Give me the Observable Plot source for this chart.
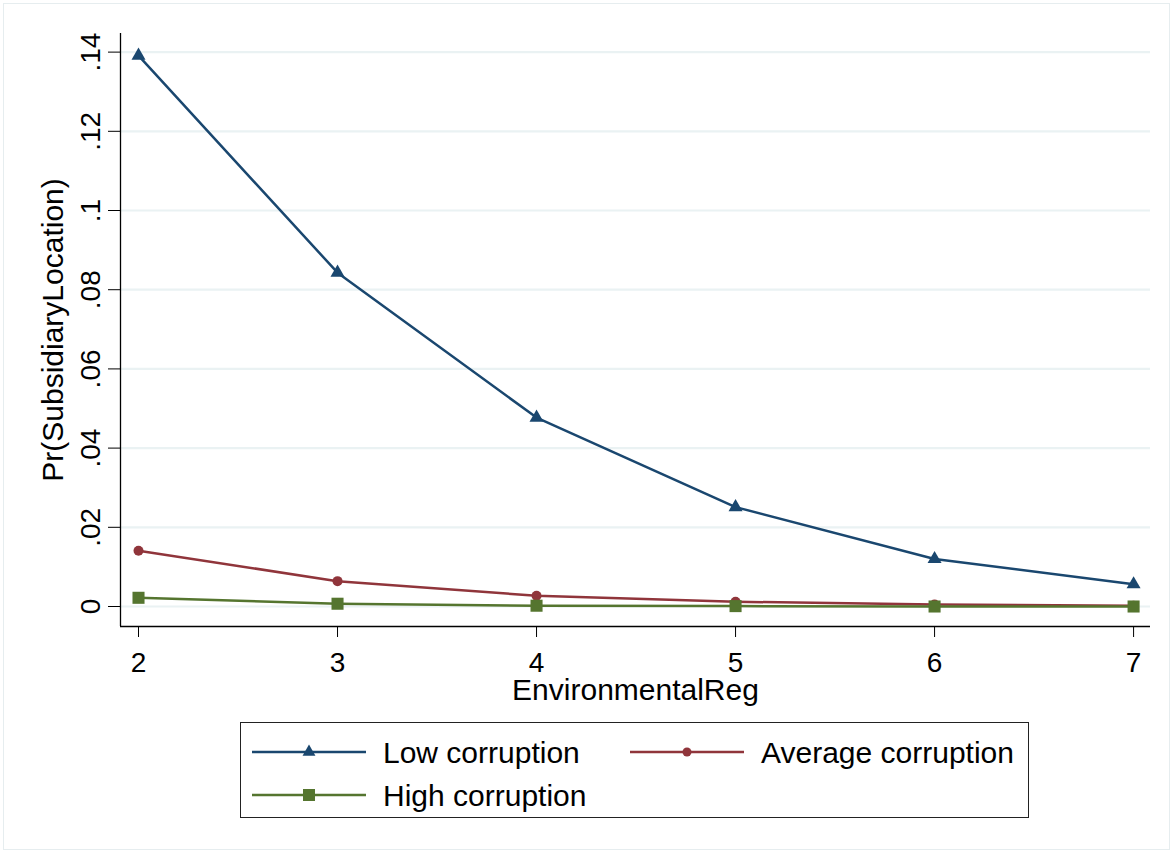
<!DOCTYPE html>
<html>
<head>
<meta charset="utf-8">
<script src="https://cdn.jsdelivr.net/npm/d3@7"></script>
<script src="https://cdn.jsdelivr.net/npm/@observablehq/plot@0.6"></script>
<style>
  html, body { margin: 0; padding: 0; background: #fff; }
  body { width: 1175px; height: 855px; position: relative; overflow: hidden;
         font-family: "Liberation Sans", Arial, sans-serif; }
  #frame { position: absolute; left: 3px; top: 3px; width: 1167px; height: 847px;
           border: 1px solid #e6edef; box-sizing: border-box; }
  #chart { position: absolute; left: 0; top: 0; }
  #legend { position: absolute; left: 240px; top: 722px; width: 789px; height: 96px;
            border: 1px solid #222; box-sizing: border-box; background: #fff; }
  .item { position: absolute; display: flex; align-items: center; font-size: 30px; color: #000; }
  .item svg { margin-right: 17px; flex: none; }
  .item span { position: relative; top: 1px; white-space: nowrap; }
</style>
</head>
<body>
<div id="frame"></div>
<div id="chart"></div>
<div id="legend"></div>
<script>
// ---- data ----
const xValues = [2, 3, 4, 5, 6, 7];
const lowCorruption = [0.1391, 0.0843, 0.0477, 0.0251, 0.0120, 0.0056];
const averageCorruption = [0.0141, 0.0064, 0.0027, 0.0012, 0.0005, 0.0002];
const highCorruption = [0.0022, 0.0007, 0.0002, 0.0001, 0.0000, 0.0000];
const seriesNames = ["Low corruption", "Average corruption", "High corruption"];
const seriesColors = ["#1a476f", "#90353b", "#55752f"];
const seriesSymbols = ["triangle", "circle", "square"];
const seriesRadii = [5.2, 5, 6.8];
const legendRadii = [4.8, 4.5, 6.8];
const yTicks = [0, 0.02, 0.04, 0.06, 0.08, 0.1, 0.12, 0.14];
const xTicks = [2, 3, 4, 5, 6, 7];
const xLabel = "EnvironmentalReg";
const yLabel = "Pr(SubsidiaryLocation)";

const seriesValues = [lowCorruption, averageCorruption, highCorruption];
const rows = [];
seriesNames.forEach((name, i) => {
  xValues.forEach((x, j) => rows.push({series: name, x, y: seriesValues[i][j]}));
});

const fmtY = d => d === 0 ? "0" : String(+d.toFixed(2)).replace(/^0\./, ".");
const font = '"Liberation Sans", Arial, sans-serif';
const xDomain = [1.9095, 7.085];
const yDomain = [-0.00505, 0.1447];

const marks = [
  Plot.gridY(yTicks, {stroke: "#eaf2f3", strokeOpacity: 1, strokeWidth: 2.2}),
  Plot.ruleX([xDomain[0]], {stroke: "#000", strokeWidth: 1.3}),
  Plot.ruleY([yDomain[0]], {stroke: "#000", strokeWidth: 1.3}),
  Plot.axisY(yTicks, {tickSize: 12, tickFormat: () => "", label: null, stroke: "#000"}),
  Plot.text(yTicks, {y: d => d, text: fmtY, frameAnchor: "left", dx: -29, rotate: -90,
                     fontSize: 28, fill: "#000", textAnchor: "middle", lineAnchor: "middle"}),
  Plot.axisX(xTicks, {tickSize: 11, tickPadding: 15, fontSize: 28, tickFormat: d => String(d),
                      label: null, stroke: "#000", fill: "#000"}),
  Plot.text([xLabel], {frameAnchor: "bottom", dy: 64, fontSize: 30, fill: "#000",
                       textAnchor: "middle", lineAnchor: "middle"}),
  Plot.text([yLabel], {frameAnchor: "left", dx: -67, rotate: -90, fontSize: 30, fill: "#000",
                       textAnchor: "middle", lineAnchor: "middle"}),
];
seriesNames.forEach((name, i) => {
  const data = rows.filter(r => r.series === name);
  marks.push(Plot.line(data, {x: "x", y: "y", stroke: seriesColors[i], strokeWidth: 2.5}));
});
seriesNames.forEach((name, i) => {
  const data = rows.filter(r => r.series === name);
  marks.push(Plot.dot(data, {x: "x", y: "y", symbol: seriesSymbols[i], r: seriesRadii[i],
                             fill: seriesColors[i], stroke: "none"}));
});

const chart = Plot.plot({
  width: 1175,
  height: 715,
  marginLeft: 120,
  marginRight: 25,
  marginTop: 33,
  marginBottom: 89,
  style: {fontFamily: font, background: "transparent", overflow: "visible"},
  x: {domain: xDomain, axis: null},
  y: {domain: yDomain, axis: null},
  marks
});
document.getElementById("chart").appendChild(chart);

// ---- legend ----
const legend = document.getElementById("legend");
const positions = [[11, 12], [389, 12], [11, 55]];
seriesNames.forEach((name, i) => {
  const item = document.createElement("div");
  item.className = "item";
  item.style.left = positions[i][0] + "px";
  item.style.top = positions[i][1] + "px";
  const sw = d3.create("svg").attr("width", 114).attr("height", 30);
  sw.append("line").attr("x1", 0).attr("x2", 114).attr("y1", 15).attr("y2", 15)
    .attr("stroke", seriesColors[i]).attr("stroke-width", 2.5);
  const sym = {triangle: d3.symbolTriangle, circle: d3.symbolCircle, square: d3.symbolSquare}[seriesSymbols[i]];
  const rr = legendRadii[i];
  sw.append("path").attr("d", d3.symbol(sym, Math.PI * rr * rr)())
    .attr("transform", "translate(57,15)").attr("fill", seriesColors[i]);
  item.appendChild(sw.node());
  const t = document.createElement("span");
  t.textContent = name;
  item.appendChild(t);
  legend.appendChild(item);
});
</script>
</body>
</html>
